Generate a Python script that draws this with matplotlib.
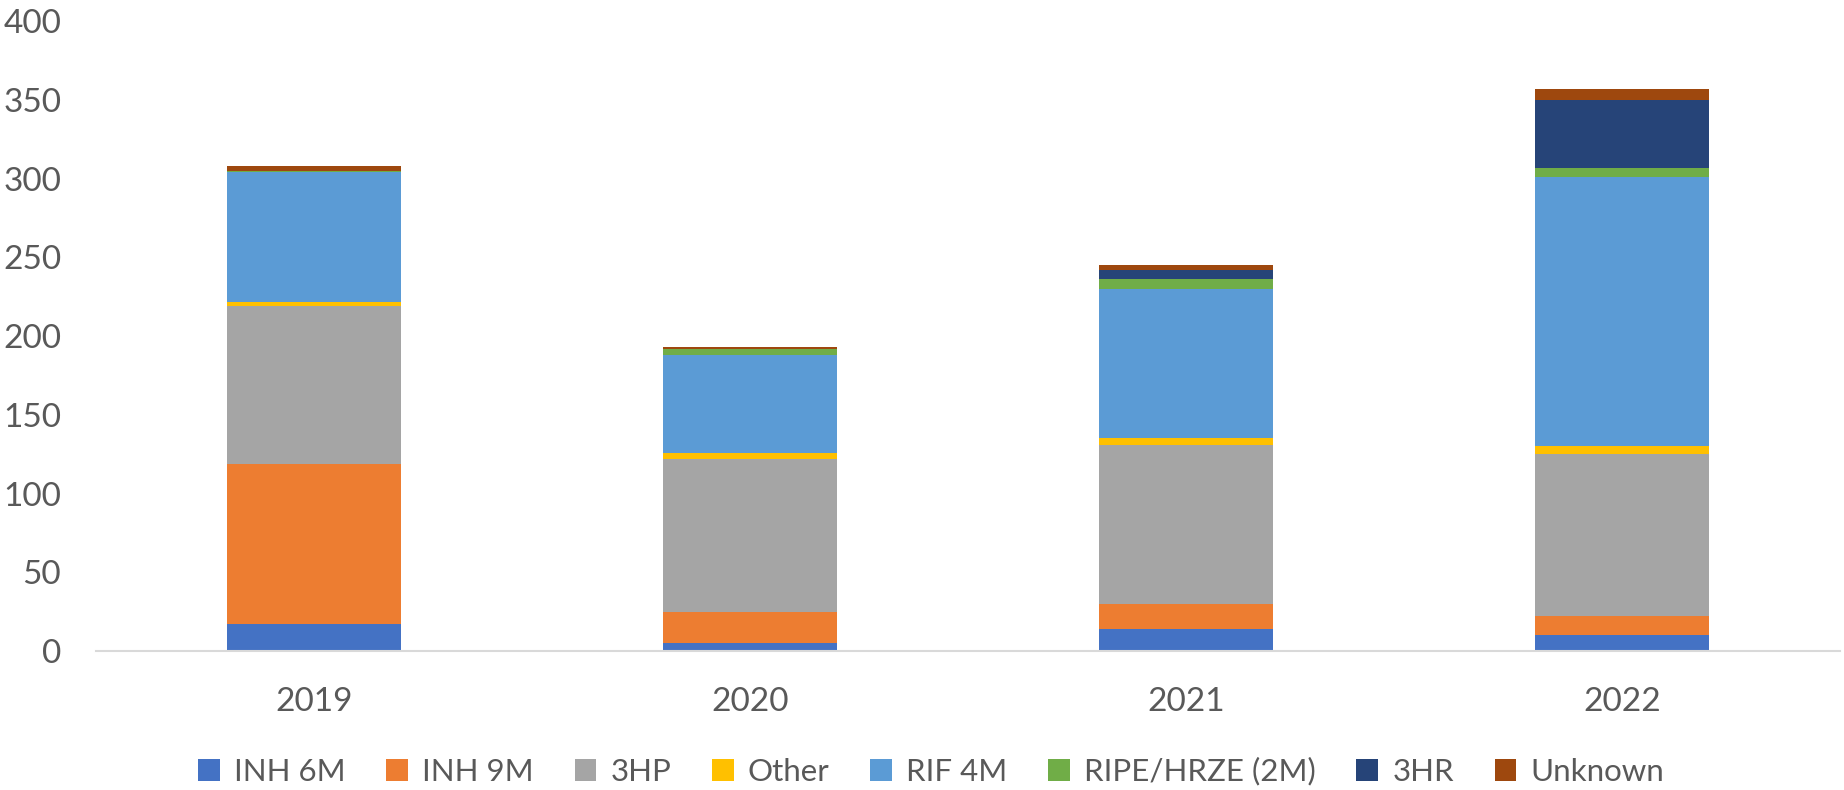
import numpy as np
import matplotlib.pyplot as plt

# --------------------------
# Data
# --------------------------
years = ["2019", "2020", "2021", "2022"]
inh_6m = [17, 5, 14, 10]
inh_9m = [102, 20, 16, 12]
hp3 = [100, 97, 101, 103]
other = [3, 4, 4, 5]
rif_4m = [82, 62, 95, 171]
ripe_hrze = [1, 4, 6, 6]
hr3 = [0, 0, 6, 43]
unknown = [3, 1, 3, 7]

series_names = ["INH 6M", "INH 9M", "3HP", "Other", "RIF 4M",
                "RIPE/HRZE (2M)", "3HR", "Unknown"]
series_values = [inh_6m, inh_9m, hp3, other, rif_4m, ripe_hrze, hr3, unknown]
colors = ["#4472C4", "#ED7D31", "#A5A5A5", "#FFC000", "#5B9BD5",
          "#70AD47", "#264478", "#9E480E"]

plt.rcParams["font.family"] = ["Lato", "DejaVu Sans"]

fig = plt.figure(figsize=(18.44, 7.9), dpi=100)
ax = fig.add_axes([0.052, 0.176, 0.946, 0.797])

x = np.arange(len(years))
bottom = np.zeros(len(years))
for name, vals, col in zip(series_names, series_values, colors):
    ax.bar(x, vals, width=0.4, bottom=bottom, color=col, label=name,
           linewidth=0)
    bottom += np.array(vals)

ax.set_xlim(-0.5, len(years) - 0.5)
ax.set_ylim(0, 400)
ax.set_yticks(range(0, 401, 50))
ax.set_xticks(x)
ax.set_xticklabels(years)

for side in ["top", "right", "left"]:
    ax.spines[side].set_visible(False)
ax.spines["bottom"].set_color("#D9D9D9")
ax.spines["bottom"].set_linewidth(1.5)

ax.tick_params(axis="y", length=0, pad=25, labelsize=24, labelcolor="#595959")
ax.tick_params(axis="x", length=0, pad=26, labelsize=24, labelcolor="#595959")

fig.legend(loc="lower center", bbox_to_anchor=(0.505, -0.03), ncol=8,
           frameon=False, fontsize=22.5, handlelength=0.7, handleheight=0.7,
           handletextpad=0.45, columnspacing=1.3, labelcolor="#595959")

fig.savefig("out.png", dpi=100)
